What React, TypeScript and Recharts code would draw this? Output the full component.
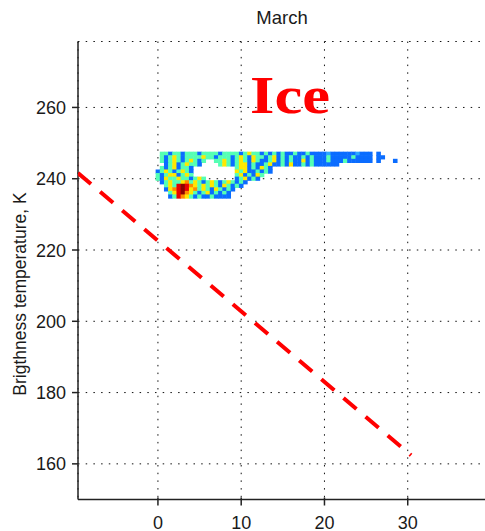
import { ScatterChart, Scatter, XAxis, YAxis, CartesianGrid } from 'recharts';

const FONT = '"Liberation Sans", Arial, Helvetica, sans-serif';

// axes
const xTicks = [0, 10, 20, 30];
const yTicks = [160, 180, 200, 220, 240, 260];

// red dashed separation line
const dashX = [-9.6, 30.4];
const dashT = [241.6, 162.4];

// density map: one string per temperature row,
// one char per 0.5 step in x starting at x = -0.5
const heatX0 = -0.5;
const heatStep = 0.5;
const heatRowT = [247, 246, 245, 244, 243, 242, 241, 240, 239, 238, 237, 236, 235];
const heatRows = [
  '..ccbccbcc' + 'cbccccbccc' + 'cbcyccbcbc' + 'bcbbcbbcbb' + 'bblbbbbbbl' + 'bbb.b.......',
  '..cbcycbcc' + 'ccyccbcccb' + 'cycbyccbcy' + 'bcbcbbcbcb' + 'bbcbbbbbcb' + 'bbb.bb......',
  '..cbcycbcy' + 'cbc..ccycb' + 'cycbycbbcy' + 'bcbcbbybcb' + 'bbcbbbcbbb' + 'bbb.b...b...',
  '...bcybcyc' + 'cb....cycb' + 'cyybcbbcyb' + 'bcbybbcbcb' + 'bbbbb.....',
  '..cbcybccb' + '..........' + 'cyybcbycb.',
  '.bcycbcycb' + '..........' + 'ycybbcbcb.',
  '.cbcyybcyc' + '..........' + 'cybcbyc...',
  '.cbyccyccb' + 'cyc.......' + 'bcybcb....',
  '..bcyccyoc' + 'ycbcycbcyc' + 'bcb.......',
  '...cycrdro' + 'ycycycbycb' + 'cb........',
  '...byordry' + 'ocycbycbcb',
  '....cyrdoy' + 'cbcybcbcb.',
  '....bcroyc' + 'bcbbcbbbb.',
];
const heatColors: Record<string, string> = {
  b: '#0a6cff',
  l: '#2aa8ff',
  c: '#55ffb4',
  y: '#ffe800',
  o: '#ff8a00',
  r: '#e80000',
  d: '#8a0000',
};

const dashData = dashX.map((x, i) => ({ x, t: dashT[i] }));

const heatData: { x: number; t: number; fill: string }[] = [];
heatRows.forEach((row, r) => {
  row.split('').forEach((ch, i) => {
    if (heatColors[ch]) heatData.push({ x: heatX0 + i * heatStep, t: heatRowT[r], fill: heatColors[ch] });
  });
});

const HeatCell = (props: any) => {
  const { cx, cy, payload } = props;
  return <rect x={cx - 2.3} y={cy - 2.1} width={4.6} height={4.2} fill={payload.fill} />;
};

const BottomTick = (props: any) => {
  const { x, y, payload } = props;
  return (
    <g>
      <line x1={x} y1={y} x2={x} y2={y - 8} stroke="#222" strokeWidth={1.5} />
      <text x={x} y={y + 23.5} textAnchor="middle" fontSize={18} fill="#1a1a1a" fontFamily={FONT}>
        {payload.value}
      </text>
    </g>
  );
};

const TopTick = (props: any) => {
  const { x, y } = props;
  return <line x1={x} y1={y} x2={x} y2={y + 6} stroke="#222" strokeWidth={1.5} />;
};

const LeftTick = (props: any) => {
  const { x, y, payload } = props;
  return (
    <g>
      <line x1={x} y1={y} x2={x + 6} y2={y} stroke="#222" strokeWidth={1.5} />
      <text x={x - 6} y={y + 6.5} textAnchor="end" fontSize={18} fill="#1a1a1a" fontFamily={FONT}>
        {payload.value}
      </text>
    </g>
  );
};

export default function App() {
  return (
    <div style={{ position: 'fixed', left: 0, top: 0, width: 485, height: 531, overflow: 'hidden', background: '#fff' }}>
      <ScatterChart width={500} height={531} margin={{ top: 41.5, right: 9, bottom: 0, left: 0 }}>
        <CartesianGrid stroke="#111" strokeWidth={1} strokeDasharray="1.5 6.2" />
        <XAxis
          type="number"
          dataKey="x"
          domain={[-9.6, 40]}
          ticks={xTicks}
          interval={0}
          allowDataOverflow
          height={31.5}
          tickLine={false}
          tickMargin={0}
          axisLine={{ stroke: '#222', strokeWidth: 1.5 }}
          tick={<BottomTick />}
        />
        <XAxis
          xAxisId="top"
          orientation="top"
          type="number"
          domain={[-9.6, 40]}
          ticks={xTicks}
          interval={0}
          allowDataOverflow
          height={0}
          tickLine={false}
          tickMargin={0}
          axisLine={{ stroke: '#222', strokeWidth: 1.5 }}
          tick={<TopTick />}
        />
        <YAxis
          type="number"
          dataKey="t"
          domain={[150, 278.5]}
          ticks={yTicks}
          interval={0}
          allowDataOverflow
          width={78}
          tickLine={false}
          tickMargin={0}
          axisLine={{ stroke: '#222', strokeWidth: 1.5 }}
          tick={<LeftTick />}
        />
        <Scatter data={heatData} shape={HeatCell} isAnimationActive={false} />
        <Scatter
          data={dashData}
          fill="#f00"
          line={{ stroke: '#f00', strokeWidth: 4, strokeDasharray: '17 12' }}
          shape={() => <g />}
          isAnimationActive={false}
        />
      </ScatterChart>
      <svg width={485} height={531} style={{ position: 'absolute', left: 0, top: 0, pointerEvents: 'none' }}>
        <text x={282} y={24} textAnchor="middle" fontSize={18.5} fill="#1a1a1a" fontFamily={FONT}>
          March
        </text>
        <text
          transform="translate(25.5, 294) rotate(-90)"
          textAnchor="middle"
          fontSize={17.5}
          fill="#1a1a1a"
          fontFamily={FONT}
        >
          Brigthness temperature, K
        </text>
        <text
          x={250}
          y={112.7}
          fontSize={52}
          fontWeight="bold"
          fill="#f00"
          fontFamily='"Liberation Serif", "Times New Roman", serif'
          textLength={80}
          lengthAdjust="spacingAndGlyphs"
        >
          Ice
        </text>
      </svg>
    </div>
  );
}
